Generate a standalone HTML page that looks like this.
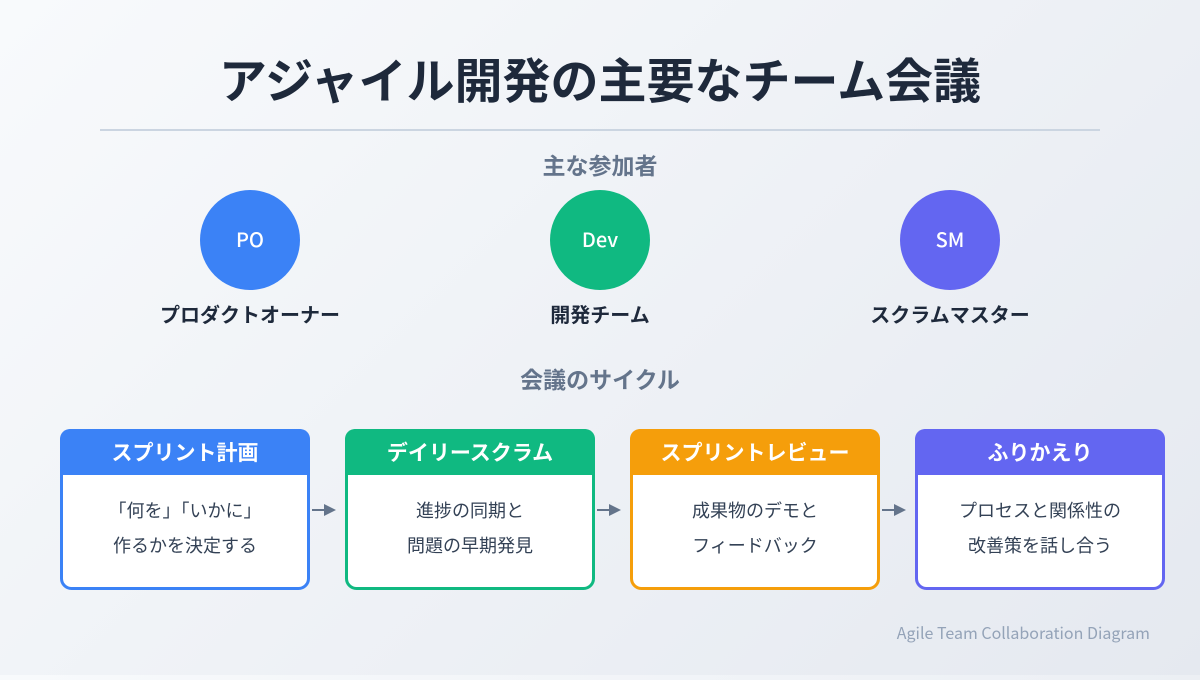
<!DOCTYPE html>
<html><head><meta charset="utf-8"><style>
html,body{margin:0;padding:0}
body{width:1200px;height:675px;overflow:hidden;background:linear-gradient(135deg,#f8fafc,#e5e9f0);font-family:"Noto Sans CJK JP","Liberation Sans",sans-serif}
</style></head><body>
<svg width="1200" height="675" xmlns="http://www.w3.org/2000/svg" font-family="Noto Sans CJK JP, Liberation Sans, sans-serif">
<text x="600" y="98" text-anchor="middle" font-size="48" font-weight="bold" fill="#1e293b">アジャイル開発の主要なチーム会議</text>
<line x1="100" y1="130" x2="1100" y2="130" stroke="#cbd5e1" stroke-width="2"/>
<text x="600" y="174" text-anchor="middle" font-size="23" font-weight="bold" fill="#64748b">主な参加者</text>
<circle cx="250" cy="240" r="50" fill="#3b82f6"/>
<circle cx="600" cy="240" r="50" fill="#10b981"/>
<circle cx="950" cy="240" r="50" fill="#6366f1"/>
<g font-size="20" font-weight="500" fill="#fff" text-anchor="middle">
<text x="250" y="247">PO</text><text x="600" y="247">Dev</text><text x="950" y="247">SM</text></g>
<g font-size="20" font-weight="bold" fill="#1e293b" text-anchor="middle">
<text x="250" y="322">プロダクトオーナー</text><text x="600" y="322">開発チーム</text><text x="950" y="322">スクラムマスター</text></g>
<text x="600" y="388" text-anchor="middle" font-size="23" font-weight="bold" fill="#64748b">会議のサイクル</text>
<g>
<rect x="61.5" y="430.5" width="247" height="158" rx="10" fill="#fff" stroke="#3b82f6" stroke-width="3"/>
<path d="M60 439a10 10 0 0 1 10-10h230a10 10 0 0 1 10 10v36h-250z" fill="#3b82f6"/>
<rect x="346.5" y="430.5" width="247" height="158" rx="10" fill="#fff" stroke="#10b981" stroke-width="3"/>
<path d="M345 439a10 10 0 0 1 10-10h230a10 10 0 0 1 10 10v36h-250z" fill="#10b981"/>
<rect x="631.5" y="430.5" width="247" height="158" rx="10" fill="#fff" stroke="#f59e0b" stroke-width="3"/>
<path d="M630 439a10 10 0 0 1 10-10h230a10 10 0 0 1 10 10v36h-250z" fill="#f59e0b"/>
<rect x="916.5" y="430.5" width="247" height="158" rx="10" fill="#fff" stroke="#6366f1" stroke-width="3"/>
<path d="M915 439a10 10 0 0 1 10-10h230a10 10 0 0 1 10 10v36h-250z" fill="#6366f1"/>
</g>
<g font-size="21" font-weight="bold" fill="#fff" text-anchor="middle">
<text x="185" y="460">スプリント計画</text><text x="470" y="460">デイリースクラム</text><text x="755" y="460">スプリントレビュー</text><text x="1040" y="460">ふりかえり</text></g>
<g font-size="18" fill="#334155" text-anchor="middle">
<text x="185" y="517">「何を」「いかに」</text><text x="185" y="552">作るかを決定する</text>
<text x="470" y="517">進捗の同期と</text><text x="470" y="552">問題の早期発見</text>
<text x="755" y="517">成果物のデモと</text><text x="755" y="552">フィードバック</text>
<text x="1040" y="517">プロセスと関係性の</text><text x="1040" y="552">改善策を話し合う</text></g>
<g fill="#64748b" stroke="#64748b" stroke-width="2">
<line x1="312" y1="510" x2="325" y2="510"/><path d="M324 504l12 6-12 6z" stroke="none"/>
<line x1="597" y1="510" x2="610" y2="510"/><path d="M609 504l12 6-12 6z" stroke="none"/>
<line x1="882" y1="510" x2="895" y2="510"/><path d="M894 504l12 6-12 6z" stroke="none"/>
</g>
<text x="1150" y="639" text-anchor="end" font-size="16" fill="#94a3b8">Agile Team Collaboration Diagram</text>
</svg>
</body></html>
